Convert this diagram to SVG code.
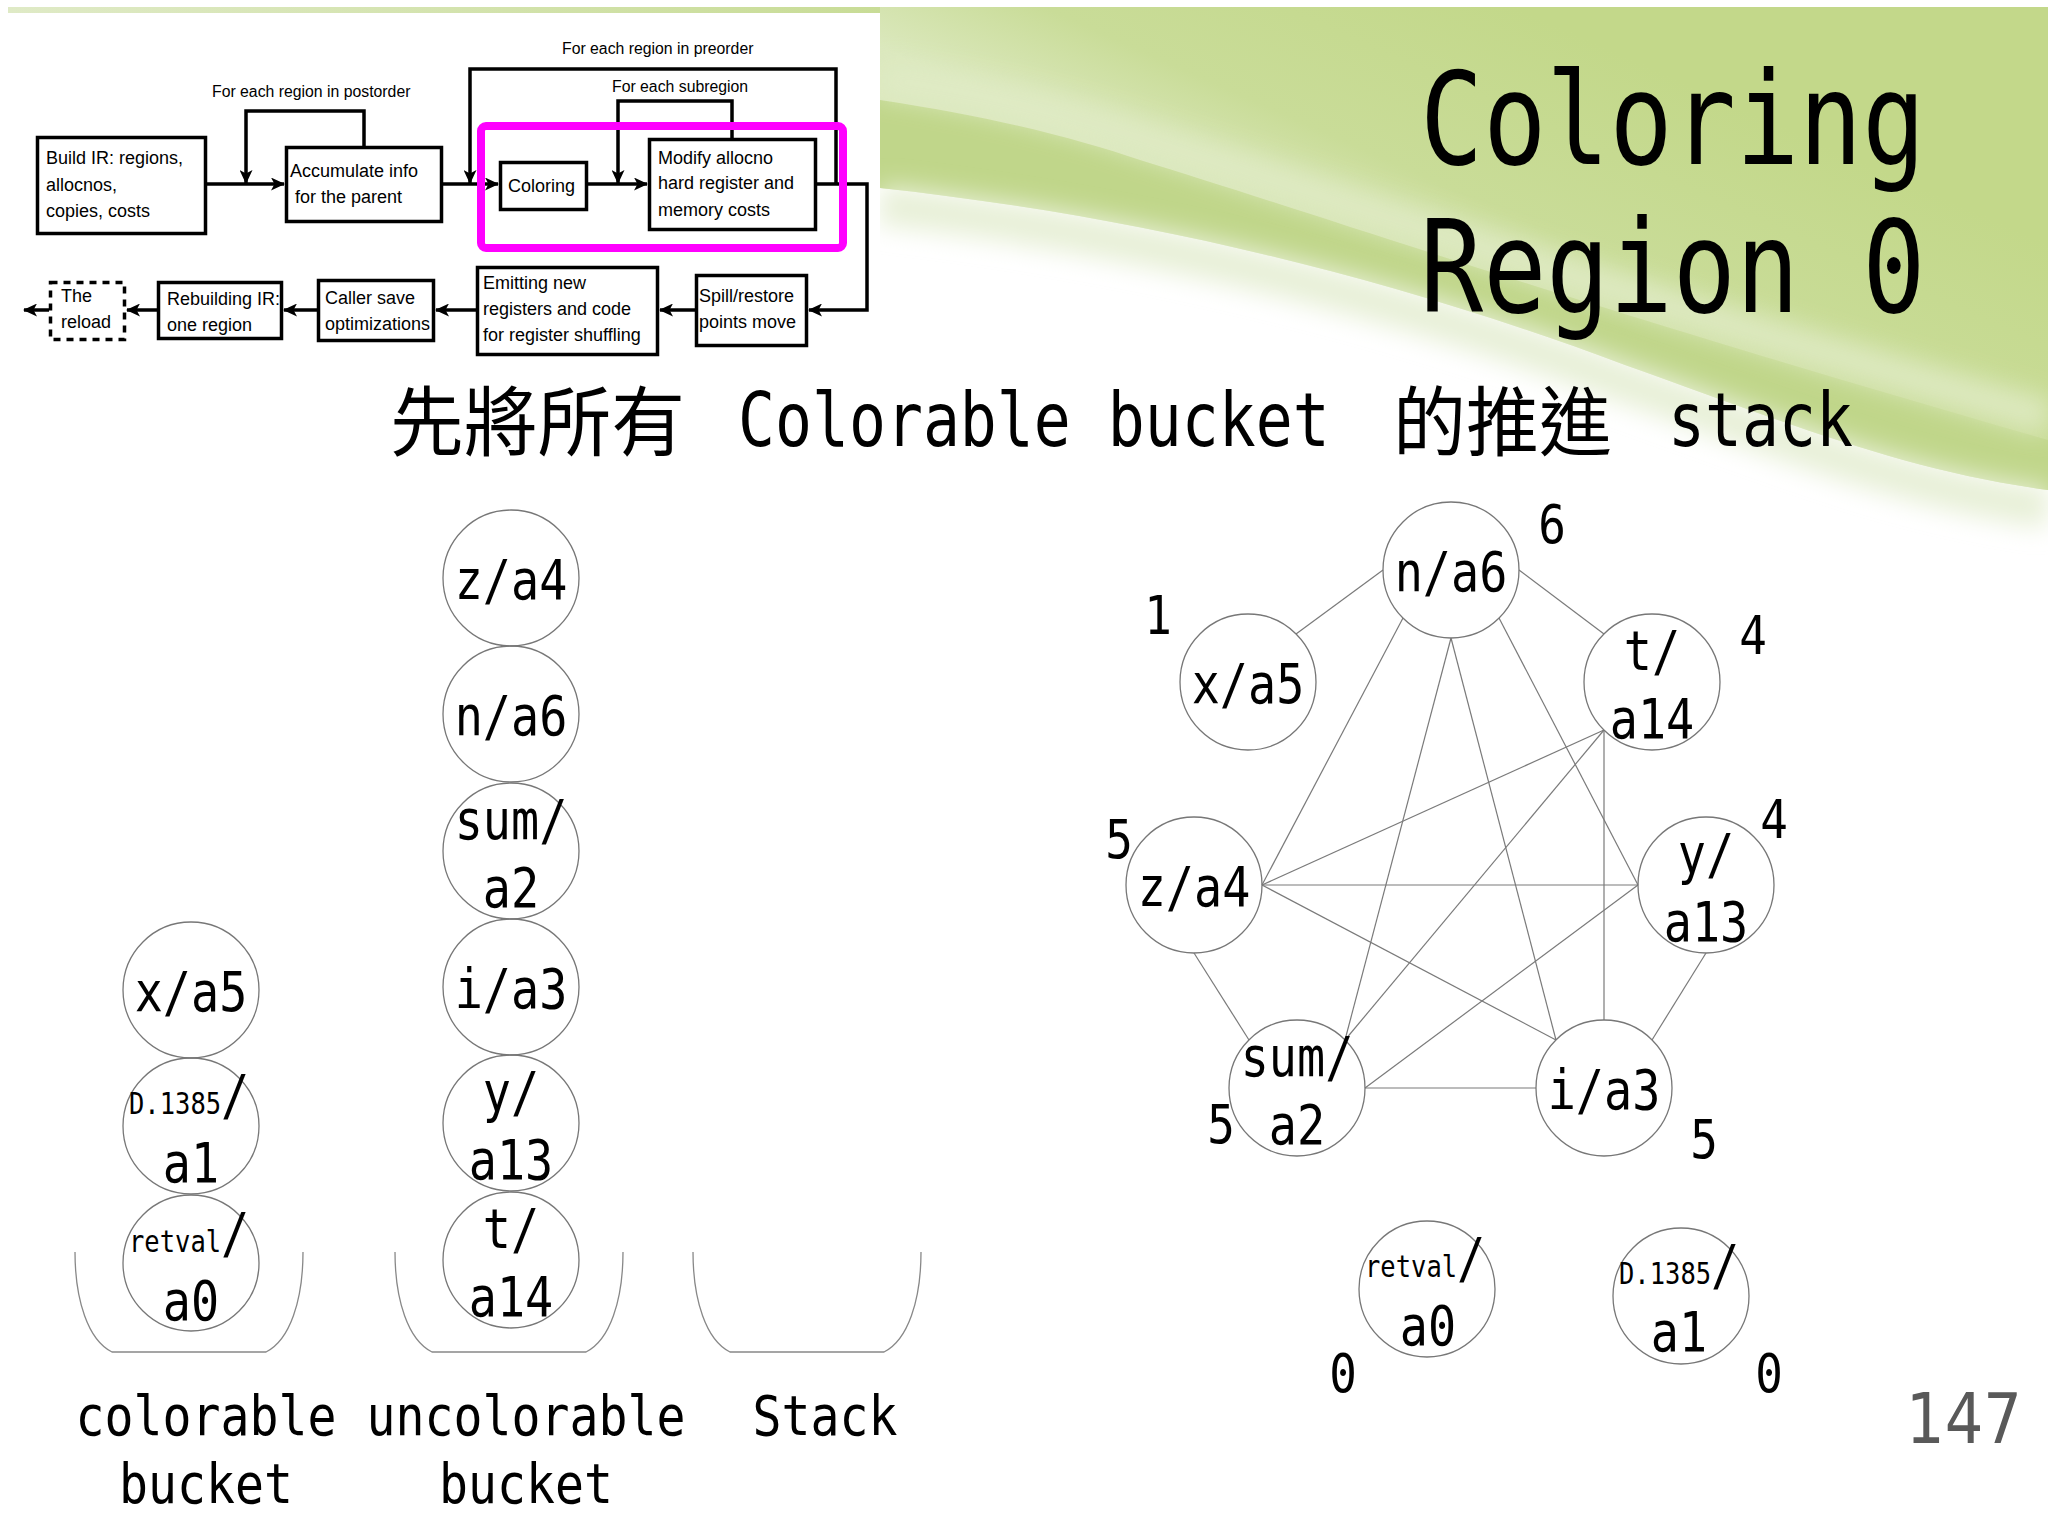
<svg xmlns="http://www.w3.org/2000/svg" width="2048" height="1536" viewBox="0 0 2048 1536">
<defs>
<style>
.fc-box{fill:#fff;stroke:#000;stroke-width:3.5}
.fc-dash{fill:#fff;stroke:#000;stroke-width:3.5;stroke-dasharray:7 6}
.fc-txt{font-family:"Liberation Sans",Arial,sans-serif;font-size:18px;fill:#000}
.fc-lbl{font-family:"Liberation Sans",Arial,sans-serif;font-size:15.8px;fill:#000}
.fc-line{fill:none;stroke:#000;stroke-width:3.5}
.mono{font-family:"DejaVu Sans Mono",monospace;fill:#000;font-variant-numeric:slashed-zero}
.cjk{font-family:"Noto Sans CJK TC","Noto Sans CJK SC",sans-serif;fill:#000}
.node{fill:none;stroke:#777;stroke-width:1.3}
.edge{stroke:#7a7a7a;stroke-width:1.2;fill:none}
.bucket{fill:none;stroke:#888;stroke-width:1.3}
.big{font-size:55px}
.deg{font-size:54px}
.small{font-size:30px}
.lab{font-size:56px}
</style>
<marker id="ah" viewBox="0 0 14 13" refX="13" refY="6.5" markerWidth="14" markerHeight="13" markerUnits="userSpaceOnUse" orient="auto">
<path d="M0,0 L14,6.5 L0,13 L3.5,6.5 Z" fill="#000"/>
</marker>
<linearGradient id="gGreen" gradientUnits="userSpaceOnUse" x1="1500" y1="0" x2="1380" y2="270">
<stop offset="0" stop-color="#c3d88a"/>
<stop offset="0.65" stop-color="#c9dc98"/>
<stop offset="1" stop-color="#dbe8bd"/>
</linearGradient>
<linearGradient id="gTop" x1="0" y1="0" x2="1" y2="0">
<stop offset="0" stop-color="#dfeac6"/>
<stop offset="1" stop-color="#c8dc96"/>
</linearGradient>
<filter id="blur" x="-20%" y="-50%" width="140%" height="200%"><feGaussianBlur stdDeviation="12"/></filter>
</defs>

<g id="background">
<rect x="0" y="0" width="2048" height="1536" fill="#fff"/>
<rect x="8" y="7" width="880" height="8" fill="url(#gTop)"/>
<path d="M880,7 H2048 V490 C1900,470 1780,420 1625,365 C1350,262 1100,212 880,188 Z" fill="url(#gGreen)"/>
<path d="M880,100 C1000,118 1080,140 1140,160 C1320,215 1560,300 2048,440 V490 C1900,470 1780,420 1625,365 C1350,262 1100,212 880,188 Z" fill="#c0d68a"/>
<path d="M880,78 C1000,96 1080,118 1140,138 C1320,193 1560,278 2048,418" stroke="#e0ebc6" stroke-width="36" fill="none" filter="url(#blur)" opacity="0.85"/>
<path d="M880,205 C1100,230 1350,280 1625,383 C1780,438 1900,488 2048,508" stroke="#e8f0d8" stroke-width="40" fill="none" filter="url(#blur)"/>
</g>

<g id="flowchart">
<rect x="0" y="13" width="880" height="352" fill="#fff"/>
<g id="flow-connectors" class="fc-line">
<path d="M207,184 H284" marker-end="url(#ah)"/>
<path d="M364,146 V111 H246 V183" marker-end="url(#ah)"/>
<path d="M443,184 H498" marker-end="url(#ah)"/>
<path d="M836,184 V69 H470 V183" marker-end="url(#ah)"/>
<path d="M588,184 H647" marker-end="url(#ah)"/>
<path d="M732,138 V101 H618 V183" marker-end="url(#ah)"/>
<path d="M817,184 H867 V310 H809" marker-end="url(#ah)"/>
<path d="M695,310 H660" marker-end="url(#ah)"/>
<path d="M476,310 H436" marker-end="url(#ah)"/>
<path d="M317,310 H284" marker-end="url(#ah)"/>
<path d="M157,310 H127" marker-end="url(#ah)"/>
<path d="M49,310 H24" marker-end="url(#ah)"/>
</g>
<text class="fc-lbl" x="212" y="97">For each region in postorder</text>
<text class="fc-lbl" x="562" y="54">For each region in preorder</text>
<text class="fc-lbl" x="612" y="92">For each subregion</text>
<g id="fc-build"><rect class="fc-box" x="37.5" y="137.5" width="168" height="96"/>
<text class="fc-txt" x="46" y="164">Build IR: regions,</text><text class="fc-txt" x="46" y="191">allocnos,</text><text class="fc-txt" x="46" y="217">copies, costs</text></g>
<g id="fc-accumulate"><rect class="fc-box" x="286.5" y="147.5" width="155" height="74"/>
<text class="fc-txt" x="290" y="177">Accumulate info</text><text class="fc-txt" x="295" y="203">for the parent</text></g>
<g id="fc-coloring"><rect class="fc-box" x="500.5" y="162.5" width="86" height="47"/>
<text class="fc-txt" x="508" y="192">Coloring</text></g>
<g id="fc-modify"><rect class="fc-box" x="649.5" y="139.5" width="166" height="90"/>
<text class="fc-txt" x="658" y="164">Modify allocno</text><text class="fc-txt" x="658" y="189">hard register and</text><text class="fc-txt" x="658" y="216">memory costs</text></g>
<rect id="fc-highlight" x="481" y="126" width="362" height="122" rx="5" fill="none" stroke="#ff00ff" stroke-width="8"/>
<g id="fc-spill"><rect class="fc-box" x="696.5" y="275.5" width="110" height="70"/>
<text class="fc-txt" x="699" y="302">Spill/restore</text><text class="fc-txt" x="699" y="328">points move</text></g>
<g id="fc-emitting"><rect class="fc-box" x="477.5" y="267.5" width="180" height="87"/>
<text class="fc-txt" x="483" y="289">Emitting new</text><text class="fc-txt" x="483" y="315">registers and code</text><text class="fc-txt" x="483" y="341">for register shuffling</text></g>
<g id="fc-caller"><rect class="fc-box" x="318.5" y="280.5" width="115" height="60"/>
<text class="fc-txt" x="325" y="304">Caller save</text><text class="fc-txt" x="325" y="330">optimizations</text></g>
<g id="fc-rebuild"><rect class="fc-box" x="158.5" y="282.5" width="123" height="56"/>
<text class="fc-txt" x="167" y="305">Rebuilding IR:</text><text class="fc-txt" x="167" y="331">one region</text></g>
<g id="fc-reload"><rect class="fc-dash" x="50.5" y="282.5" width="74" height="57"/>
<text class="fc-txt" x="61" y="302">The</text><text class="fc-txt" x="61" y="328">reload</text></g>
</g>

<g id="title" class="mono" font-size="128">
<text transform="translate(1420,164) scale(0.82,1)">Coloring</text>
<text transform="translate(1420,312) scale(0.82,1)">Region 0</text>
</g>

<g id="subtitle">
<text class="cjk" font-size="76" transform="translate(390,450) scale(0.97,1)">先將所有</text>
<text class="mono" font-size="74" transform="translate(738,446) scale(0.83,1)">Colorable bucket</text>
<text class="cjk" font-size="76" transform="translate(1393,450) scale(0.96,1)">的推進</text>
<text class="mono" font-size="74" transform="translate(1668,446) scale(0.83,1)">stack</text>
</g>

<g id="buckets">
<path id="bucket-colorable" class="bucket" d="M75,1252 C75,1300 88,1340 112,1352 H266 C290,1340 303,1300 303,1252"/>
<path id="bucket-uncolorable" class="bucket" d="M395,1252 C395,1300 408,1340 432,1352 H586 C610,1340 623,1300 623,1252"/>
<path id="bucket-stack" class="bucket" d="M693,1252 C693,1300 706,1340 730,1352 H884 C908,1340 921,1300 921,1252"/>
</g>

<g id="colorable-stack">
<g id="col-x-a5"><circle class="node" cx="191" cy="990" r="68"/>
<text class="mono big" text-anchor="middle" transform="translate(191,1011) scale(0.85,1)">x/a5</text></g>
<g id="col-d1385-a1"><circle class="node" cx="191" cy="1126" r="68"/>
<text class="mono" transform="translate(129,1114) scale(0.85,1)"><tspan class="small">D.1385</tspan><tspan class="big">/</tspan></text>
<text class="mono big" text-anchor="middle" transform="translate(191,1182) scale(0.85,1)">a1</text></g>
<g id="col-retval-a0"><circle class="node" cx="191" cy="1263" r="68"/>
<text class="mono" transform="translate(129,1252) scale(0.85,1)"><tspan class="small">retval</tspan><tspan class="big">/</tspan></text>
<text class="mono big" text-anchor="middle" transform="translate(191,1320) scale(0.85,1)">a0</text></g>
</g>

<g id="uncolorable-stack">
<g id="unc-z-a4"><circle class="node" cx="511" cy="578" r="68"/>
<text class="mono big" text-anchor="middle" transform="translate(511,599) scale(0.85,1)">z/a4</text></g>
<g id="unc-n-a6"><circle class="node" cx="511" cy="714" r="68"/>
<text class="mono big" text-anchor="middle" transform="translate(511,735) scale(0.85,1)">n/a6</text></g>
<g id="unc-sum-a2"><circle class="node" cx="511" cy="851" r="68"/>
<text class="mono big" text-anchor="middle" transform="translate(511,839) scale(0.85,1)">sum/</text>
<text class="mono big" text-anchor="middle" transform="translate(511,907) scale(0.85,1)">a2</text></g>
<g id="unc-i-a3"><circle class="node" cx="511" cy="987" r="68"/>
<text class="mono big" text-anchor="middle" transform="translate(511,1008) scale(0.85,1)">i/a3</text></g>
<g id="unc-y-a13"><circle class="node" cx="511" cy="1123" r="68"/>
<text class="mono big" text-anchor="middle" transform="translate(511,1111) scale(0.85,1)">y/</text>
<text class="mono big" text-anchor="middle" transform="translate(511,1179) scale(0.85,1)">a13</text></g>
<g id="unc-t-a14"><circle class="node" cx="511" cy="1260" r="68"/>
<text class="mono big" text-anchor="middle" transform="translate(511,1248) scale(0.85,1)">t/</text>
<text class="mono big" text-anchor="middle" transform="translate(511,1316) scale(0.85,1)">a14</text></g>
</g>

<g id="bucket-labels" class="mono lab">
<text text-anchor="middle" transform="translate(206,1435) scale(0.86,1)">colorable</text>
<text text-anchor="middle" transform="translate(206,1503) scale(0.86,1)">bucket</text>
<text text-anchor="middle" transform="translate(526,1435) scale(0.86,1)">uncolorable</text>
<text text-anchor="middle" transform="translate(526,1503) scale(0.86,1)">bucket</text>
<text text-anchor="middle" transform="translate(825,1435) scale(0.86,1)">Stack</text>
</g>

<g id="graph-edges" class="edge">
<line x1="1383" y1="570" x2="1296" y2="634"/>
<line x1="1519" y1="570" x2="1604" y2="634"/>
<line x1="1403" y1="618" x2="1262" y2="885"/>
<line x1="1451" y1="638" x2="1345" y2="1040"/>
<line x1="1451" y1="638" x2="1556" y2="1040"/>
<line x1="1499" y1="618" x2="1638" y2="885"/>
<line x1="1604" y1="730" x2="1262" y2="885"/>
<line x1="1604" y1="730" x2="1345" y2="1040"/>
<line x1="1604" y1="730" x2="1604" y2="1020"/>
<line x1="1262" y1="885" x2="1638" y2="885"/>
<line x1="1262" y1="885" x2="1556" y2="1040"/>
<line x1="1194" y1="953" x2="1249" y2="1040"/>
<line x1="1638" y1="885" x2="1365" y2="1088"/>
<line x1="1706" y1="953" x2="1652" y2="1040"/>
<line x1="1365" y1="1088" x2="1536" y2="1088"/>
</g>

<g id="graph-nodes">
<g id="g-n-a6"><circle class="node" cx="1451" cy="570" r="68"/>
<text class="mono big" text-anchor="middle" transform="translate(1451,591) scale(0.85,1)">n/a6</text>
<text class="mono deg" text-anchor="middle" transform="translate(1552,543) scale(0.85,1)">6</text></g>
<g id="g-x-a5"><circle class="node" cx="1248" cy="682" r="68"/>
<text class="mono big" text-anchor="middle" transform="translate(1248,703) scale(0.85,1)">x/a5</text>
<text class="mono deg" text-anchor="middle" transform="translate(1158,634) scale(0.85,1)">1</text></g>
<g id="g-t-a14"><circle class="node" cx="1652" cy="682" r="68"/>
<text class="mono big" text-anchor="middle" transform="translate(1652,670) scale(0.85,1)">t/</text>
<text class="mono big" text-anchor="middle" transform="translate(1652,738) scale(0.85,1)">a14</text>
<text class="mono deg" text-anchor="middle" transform="translate(1753,654) scale(0.85,1)">4</text></g>
<g id="g-z-a4"><circle class="node" cx="1194" cy="885" r="68"/>
<text class="mono big" text-anchor="middle" transform="translate(1194,906) scale(0.85,1)">z/a4</text>
<text class="mono deg" text-anchor="middle" transform="translate(1119,858) scale(0.85,1)">5</text></g>
<g id="g-y-a13"><circle class="node" cx="1706" cy="885" r="68"/>
<text class="mono big" text-anchor="middle" transform="translate(1706,873) scale(0.85,1)">y/</text>
<text class="mono big" text-anchor="middle" transform="translate(1706,941) scale(0.85,1)">a13</text>
<text class="mono deg" text-anchor="middle" transform="translate(1774,838) scale(0.85,1)">4</text></g>
<g id="g-sum-a2"><circle class="node" cx="1297" cy="1088" r="68"/>
<text class="mono big" text-anchor="middle" transform="translate(1297,1076) scale(0.85,1)">sum/</text>
<text class="mono big" text-anchor="middle" transform="translate(1297,1144) scale(0.85,1)">a2</text>
<text class="mono deg" text-anchor="middle" transform="translate(1221,1143) scale(0.85,1)">5</text></g>
<g id="g-i-a3"><circle class="node" cx="1604" cy="1088" r="68"/>
<text class="mono big" text-anchor="middle" transform="translate(1604,1109) scale(0.85,1)">i/a3</text>
<text class="mono deg" text-anchor="middle" transform="translate(1704,1158) scale(0.85,1)">5</text></g>
<g id="g-retval-a0"><circle class="node" cx="1427" cy="1289" r="68"/>
<text class="mono" transform="translate(1365,1277) scale(0.85,1)"><tspan class="small">retval</tspan><tspan class="big">/</tspan></text>
<text class="mono big" text-anchor="middle" transform="translate(1428,1345) scale(0.85,1)">a0</text>
<text class="mono deg" text-anchor="middle" transform="translate(1343,1392) scale(0.85,1)">0</text></g>
<g id="g-d1385-a1"><circle class="node" cx="1681" cy="1296" r="68"/>
<text class="mono" transform="translate(1619,1284) scale(0.85,1)"><tspan class="small">D.1385</tspan><tspan class="big">/</tspan></text>
<text class="mono big" text-anchor="middle" transform="translate(1679,1351) scale(0.85,1)">a1</text>
<text class="mono deg" text-anchor="middle" transform="translate(1769,1392) scale(0.85,1)">0</text></g>
</g>

<text id="page-number" font-family="DejaVu Sans, sans-serif" font-size="69" fill="#595959" text-anchor="end" transform="translate(2022,1443) scale(0.88,1)">147</text>
</svg>
